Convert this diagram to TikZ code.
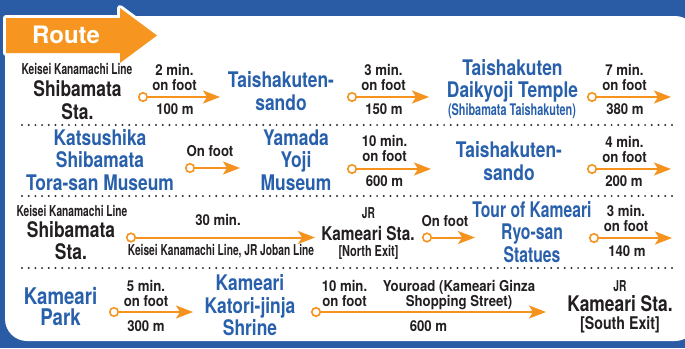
\documentclass[tikz,border=0pt]{standalone}
\usepackage{fontspec}
\setmainfont{TeX Gyre Heros}[FakeStretch=0.81]
\newfontfamily\fmid{TeX Gyre Heros}[FakeStretch=0.88]
\newfontfamily\fnar{TeX Gyre Heros}[FakeStretch=0.68]
\newfontfamily\fcond{TeX Gyre Heros}[FakeStretch=0.73]
\newfontfamily\froute{TeX Gyre Heros}
\usetikzlibrary{arrows.meta}
\definecolor{frameblue}{RGB}{42,92,166}
\definecolor{tblue}{RGB}{40,96,172}
\definecolor{tblack}{RGB}{35,31,32}
\definecolor{aorange}{RGB}{245,147,30}
\definecolor{rorange}{RGB}{246,150,32}
\definecolor{dotc}{RGB}{45,45,45}
\begin{document}
\begin{tikzpicture}[x=1pt,y=-1pt,
  big/.style={font=\bfseries\fontsize{21.5}{22.5}\selectfont, align=center, inner sep=0pt},
  bluet/.style={big, text=tblue},
  blkt/.style={big, text=tblack},
  lab/.style={font=\fmid\bfseries\fontsize{15}{15}\selectfont, align=center, inner sep=0pt, text=tblack},
  nar/.style={font=\fnar\bfseries\fontsize{15}{16}\selectfont, inner sep=0pt, text=tblack},
  startc/.style={circle, draw=aorange, fill=white, line width=1.6pt, minimum size=8.5pt, inner sep=0pt},
  walk/.style={draw=aorange, line width=2pt, -{Stealth[length=17pt,width=13pt,inset=4pt]}},
  sep/.style={line width=2.2pt, draw=dotc, dash pattern=on 0pt off 6.7pt, line cap=round},
  routetxt/.style={font=\froute\bfseries\fontsize{24}{24}\selectfont, text=white, inner sep=0pt}
]
\useasboundingbox (0,0) rectangle (685,348);
\fill[frameblue] (0,0) rectangle (685,348);
\fill[white, rounded corners=22pt] (5,16) rectangle (697,341);
% Route tab
\path[draw=white, fill=white, line width=6pt, line join=round]
  (6,18) -- (120,18) -- (120,8) -- (157,35.5) -- (120,63) -- (120,53) -- (6,53) -- cycle;
\fill[rorange] (6,18) -- (120,18) -- (120,8) -- (157,35.5) -- (120,63) -- (120,53) -- (6,53) -- cycle;
\node[routetxt] (route) at (66,35) {Route};
% separators
\draw[sep] (22,125) -- (678,125);
\draw[sep] (22,196) -- (678,196);
\draw[sep] (22,268) -- (678,268);
% ---------- Row 1
\node[nar] (k1) at (77,68.5) {Keisei Kanamachi Line};
\node[blkt] (shib1) at (77.5,100) {Shibamata\\Sta.};
\node[lab] (t1) at (174.5,77.5) {2 min.\\on foot};
\node[lab] (d1) at (175,109.5) {100 m};
\node[startc] (s1) at (143,97) {};
\coordinate (e1) at (220,97);
\draw[walk] (s1) -- (e1);
\node[bluet] (ts1) at (281,91) {Taishakuten-\\sando};
\node[lab] (t2) at (383.5,77.5) {3 min.\\on foot};
\node[lab] (d2) at (384,109.5) {150 m};
\node[startc] (s2) at (352,97) {};
\coordinate (e2) at (429,97);
\draw[walk] (s2) -- (e2);
\node[bluet] (tdt) at (512.5,81) {Taishakuten\\Daikyoji Temple};
\node[nar, text=tblue, font=\fnar\bfseries\fontsize{16}{16}\selectfont] (st) at (512,111) {(Shibamata Taishakuten)};
\node[lab] (t3) at (624.5,77.5) {7 min.\\on foot};
\node[lab] (d3) at (625,109.5) {380 m};
\node[startc] (s3) at (592,97) {};
\coordinate (e3) at (671,97);
\draw[walk] (s3) -- (e3);
% ---------- Row 2
\node[bluet] (tora) at (100,160) {Katsushika\\Shibamata\\Tora-san Museum};
\node[lab] (of1) at (210,151.5) {On foot};
\node[startc] (s4) at (190,168) {};
\coordinate (e4) at (240,168);
\draw[walk] (s4) -- (e4);
\node[bluet] (yama) at (296,160) {Yamada\\Yoji\\Museum};
\node[lab] (t5) at (384.5,148.5) {10 min.\\on foot};
\node[lab] (d5) at (384.5,181.5) {600 m};
\node[startc] (s5) at (352,169) {};
\coordinate (e5) at (431,169);
\draw[walk] (s5) -- (e5);
\node[bluet] (ts2) at (509,161) {Taishakuten-\\sando};
\node[lab] (t6) at (624.5,149.5) {4 min.\\on foot};
\node[lab] (d6) at (624,181.5) {200 m};
\node[startc] (s6) at (592,169) {};
\coordinate (e6) at (671,169);
\draw[walk] (s6) -- (e6);
% ---------- Row 3
\node[nar] (k3) at (72,210.5) {Keisei Kanamachi Line};
\node[blkt] (shib3) at (71,240.5) {Shibamata\\Sta.};
\node[lab] (t7) at (218,219.5) {30 min.};
\node[nar] (via) at (221,251.5) {Keisei Kanamachi Line, JR Joban Line};
\node[startc] (s7) at (131,237.5) {};
\coordinate (e7) at (315,237.5);
\draw[walk] (s7) -- (e7);
\node[nar] (jr1) at (368.5,213.5) {JR};
\node[blkt, font=\bfseries\fontsize{19}{19}\selectfont] (ka1) at (368,234) {Kameari Sta.};
\node[blkt, font=\fcond\bfseries\fontsize{15}{15}\selectfont] (ne) at (368.5,252.5) {[North Exit]};
\node[lab] (of2) at (445,221.5) {On foot};
\node[startc] (s8) at (427,237.5) {};
\coordinate (e8) at (475,237.5);
\draw[walk] (s8) -- (e8);
\node[bluet, font=\fcond\bfseries\fontsize{21.5}{22.5}\selectfont] (tour) at (532,232) {Tour of Kameari\\Ryo-san\\Statues};
\node[lab] (t9) at (626,218.5) {3 min.\\on foot};
\node[lab] (d9) at (627,251) {140 m};
\node[startc] (s9) at (594,238) {};
\coordinate (e9) at (672,238);
\draw[walk] (s9) -- (e9);
% ---------- Row 4
\node[bluet, font=\bfseries\fontsize{23}{21.5}\selectfont] (park) at (60.5,306.5) {Kameari\\Park};
\node[lab] (t10) at (146,293) {5 min.\\on foot};
\node[lab] (d10) at (146,326.5) {300 m};
\node[startc] (s10) at (114,312) {};
\coordinate (e10) at (193,312);
\draw[walk] (s10) -- (e10);
\node[bluet] (kat) at (250,305.5) {Kameari\\Katori-jinja\\Shrine};
\node[lab] (t11) at (344.5,293.5) {10 min.\\on foot};
\node[lab] (you) at (459,295) {Youroad (Kameari Ginza\\Shopping Street)};
\node[lab] (d11) at (428.5,326.5) {600 m};
\node[startc] (s11) at (316,312) {};
\coordinate (e11) at (546,312);
\draw[walk] (s11) -- (e11);
\node[nar] (jr2) at (620,286.5) {JR};
\node[blkt] (ka2) at (620,304) {Kameari Sta.};
\node[blkt, font=\bfseries\fontsize{17.5}{17.5}\selectfont] (se) at (620,324.5) {[South Exit]};
\end{tikzpicture}
\end{document}
